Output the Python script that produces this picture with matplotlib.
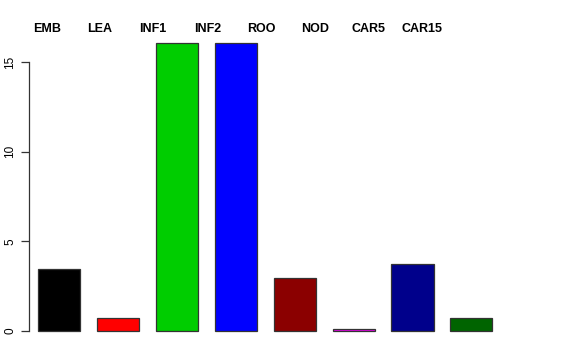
import matplotlib
matplotlib.use("Agg")
from matplotlib import pyplot as plt

labels = ["EMB", "LEA", "INF1", "INF2", "ROO", "NOD", "CAR5", "CAR15"]
values = [3.44, 0.71, 16.06, 16.06, 2.94, 0.13, 3.75, 0.71]
colors = ["black", "red", "#00CD00", "blue", "#8B0000", "#EE00EE", "#00008B", "#006400"]
yticks = [0, 5, 10, 15]

W, H = 576, 360
fig = plt.figure(figsize=(W / 100, H / 100), dpi=100)
# axes placed in pixel terms to mimic the R base plot region
ax = fig.add_axes([29 / W, 29 / H, 490 / W, 291 / H])

pos = [0.4 + 1.4 * i for i in range(len(values))]
ax.bar(pos, values, width=1.0, align="edge", color=colors,
       edgecolor="#333333", linewidth=0.9, clip_on=False)

ax.set_xlim(0.186, 11.83)
ax.set_ylim(0, 16.23)

for s in ["top", "right", "bottom"]:
    ax.spines[s].set_visible(False)
ax.spines["left"].set_bounds(0, 15)
ax.spines["left"].set_color("#333333")
ax.spines["left"].set_linewidth(0.9)
ax.set_xticks([])
ax.set_yticks(yticks)
ax.set_yticklabels([str(t) for t in yticks], rotation=90, va="center",
                   fontsize=8.5, family="Liberation Sans")
ax.tick_params(axis="y", length=6, width=0.9, color="#333333", pad=3)

# category names along the top, as in the R original
centers = [47, 100, 153, 208, 261, 315, 368, 422]
for lab, cx in zip(labels, centers):
    fig.text(cx / W, 1 - 29.5 / H, lab, ha="center", va="center",
             fontsize=9, fontweight="bold", family="Liberation Sans")

fig.savefig("out.png", dpi=100)
